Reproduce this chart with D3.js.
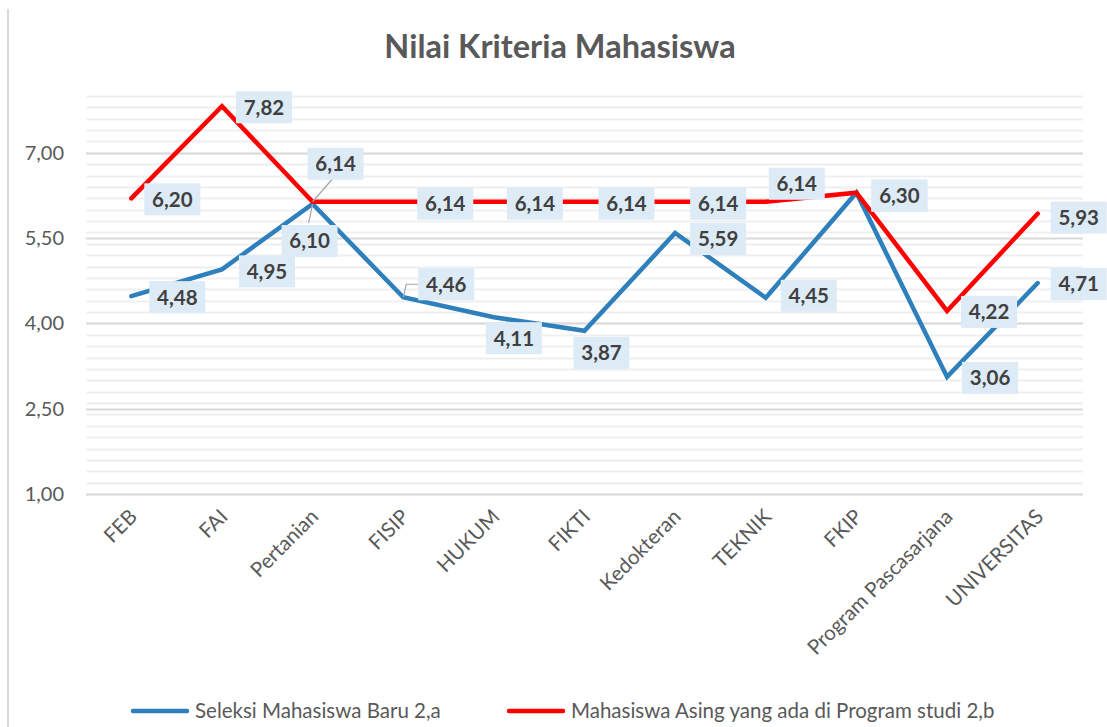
<!DOCTYPE html>
<html>
<head>
<meta charset="utf-8">
<script src="https://cdn.jsdelivr.net/npm/d3@7"></script>
<style>
  body { margin: 0; background: #fff; }
  svg text { font-family: Lato, "Open Sans", sans-serif; }
</style>
</head>
<body>
<svg id="chart" width="1107" height="727"></svg>
<script>
// data
var categories = ["FEB", "FAI", "Pertanian", "FISIP", "HUKUM", "FIKTI", "Kedokteran",
                  "TEKNIK", "FKIP", "Program Pascasarjana", "UNIVERSITAS"];
var seleksiBaru = [4.48, 4.95, 6.10, 4.46, 4.11, 3.87, 5.59, 4.45, 6.30, 3.06, 4.71];
var mhsAsing    = [6.20, 7.82, 6.14, 6.14, 6.14, 6.14, 6.14, 6.14, 6.30, 4.22, 5.93];
var seriesNames = ["Seleksi Mahasiswa Baru 2,a", "Mahasiswa Asing yang ada di Program studi 2,b"];
var yTicks = [1.0, 2.5, 4.0, 5.5, 7.0];
var chartTitle = "Nilai Kriteria Mahasiswa";

// label offsets (px from the point) for each series, by index
var blueOff = [[46,1],[45,2],[-3,37],[43,-13],[20,21],[17,22],[43,6],[43,-2],[43,3],[43,1],[41,1]];
var redOff  = [[41,1],[42,1],[23,-38],[42,2],[41,2],[42,2],[43,2],[31,-18],[43,3],[42,1],[41,4]];

var svg = d3.select("#chart");
var margin = {left: 86, right: 24, top: 96, bottom: 233};
var W = 1107, H = 727;

var x = d3.scaleBand().domain(categories).range([margin.left, W - margin.right]);
var y = d3.scaleLinear().domain([1, 8]).range([H - margin.bottom, margin.top]);
var cx = function(c) { return x(c) + x.bandwidth() / 2; };

var fmt = function(v) { return d3.format(".2f")(v).replace(".", ","); };

// chart border (left edge visible)
svg.append("line")
    .attr("x1", 8).attr("x2", 8).attr("y1", 9).attr("y2", H)
    .attr("stroke", "#d9d9d9").attr("stroke-width", 2);

// title
svg.append("text")
    .attr("x", 560).attr("y", 58)
    .attr("text-anchor", "middle")
    .attr("font-size", 32.5).attr("font-weight", "bold")
    .attr("fill", "#595959")
    .text(chartTitle);

// minor gridlines every 0.2
var minor = d3.range(1, 8.001, 0.2);
svg.append("g").selectAll("line")
    .data(minor)
    .enter()
    .append("line")
      .attr("x1", margin.left).attr("x2", W - margin.right)
      .attr("y1", function(d) { return Math.round(y(d)) + 0.5; })
      .attr("y2", function(d) { return Math.round(y(d)) + 0.5; })
      .attr("stroke", "#efefef").attr("stroke-width", 2);

// major gridlines
svg.append("g").selectAll("line")
    .data(yTicks)
    .enter()
    .append("line")
      .attr("x1", margin.left).attr("x2", W - margin.right)
      .attr("y1", function(d) { return Math.round(y(d)) + 0.5; })
      .attr("y2", function(d) { return Math.round(y(d)) + 0.5; })
      .attr("stroke", "#d9d9d9").attr("stroke-width", 2);

// y axis labels
var yAxis = d3.axisLeft(y).tickValues(yTicks).tickSize(0).tickPadding(22).tickFormat(fmt);
var gy = svg.append("g").attr("transform", "translate(" + margin.left + ",0)").call(yAxis);
gy.select(".domain").remove();
gy.selectAll("text")
    .attr("font-size", 20).attr("fill", "#595959")
    .attr("font-family", "Lato, 'Open Sans', sans-serif");

// x axis labels rotated
var xAxis = d3.axisBottom(x).tickSize(0).tickPadding(0);
var gx = svg.append("g").attr("transform", "translate(0," + (H - margin.bottom) + ")").call(xAxis);
gx.select(".domain").remove();
gx.selectAll("text")
    .attr("font-size", 20.5).attr("fill", "#595959")
    .attr("font-family", "Lato, 'Open Sans', sans-serif")
    .attr("text-anchor", "end")
    .attr("dy", null)
    .attr("transform", "translate(7,24) rotate(-45)");

// lines
var line = d3.line()
    .x(function(d, i) { return cx(categories[i]); })
    .y(function(d) { return y(d); });

var series = [
    {name: seriesNames[0], values: seleksiBaru, color: "#2e80bd", off: blueOff},
    {name: seriesNames[1], values: mhsAsing, color: "#ff0000", off: redOff}
];

svg.append("g").selectAll("path")
    .data(series)
    .enter()
    .append("path")
      .attr("d", function(d) { return line(d.values); })
      .attr("fill", "none")
      .attr("stroke", function(d) { return d.color; })
      .attr("stroke-width", 4.5)
      .attr("stroke-linejoin", "miter")
      .attr("stroke-linecap", "round");

// leader lines for the labels that sit away from their points
function leader(pts) {
    svg.append("polyline")
        .attr("points", pts.map(function(p) { return p.join(","); }).join(" "))
        .attr("fill", "none").attr("stroke", "#a6a6a6").attr("stroke-width", 1.2);
}
var pX = cx(categories[2]);
leader([[pX, y(mhsAsing[2])], [pX + 20, y(mhsAsing[2]) - 23]]);
leader([[pX, y(seleksiBaru[2])], [pX - 4, y(seleksiBaru[2]) + 19]]);
var fX = cx(categories[3]), fY = y(seleksiBaru[3]);
leader([[fX, fY], [fX + 3, fY - 13], [fX + 16, fY - 13]]);

// data labels
var labels = [];
series.forEach(function(s) {
    s.values.forEach(function(v, i) {
        labels.push({v: v, x: cx(categories[i]) + s.off[i][0], y: y(v) + s.off[i][1]});
    });
});

var lab = svg.append("g").selectAll("g")
    .data(labels)
    .enter()
    .append("g")
      .attr("transform", function(d) { return "translate(" + d.x + "," + d.y + ")"; });
lab.append("rect")
    .attr("x", -28).attr("y", -16)
    .attr("width", 56).attr("height", 32)
    .attr("fill", "#ddebf7");
lab.append("text")
    .attr("text-anchor", "middle")
    .attr("dy", "0.36em")
    .attr("font-size", 20.5).attr("font-weight", "bold")
    .attr("fill", "#404040")
    .text(function(d) { return fmt(d.v); });

// legend
var legendItems = [
    {name: seriesNames[0], color: "#2e80bd", x: 133},
    {name: seriesNames[1], color: "#ff0000", x: 509}
];
var lg = svg.append("g").selectAll("g")
    .data(legendItems)
    .enter()
    .append("g")
      .attr("transform", function(d) { return "translate(" + d.x + ",711)"; });
lg.append("line")
    .attr("x1", 0).attr("x2", 54)
    .attr("stroke", function(d) { return d.color; })
    .attr("stroke-width", 4.5).attr("stroke-linecap", "round");
lg.append("text")
    .attr("x", 62).attr("dy", "0.35em")
    .attr("font-size", 20.5).attr("fill", "#595959")
    .text(function(d) { return d.name; });
</script>
</body>
</html>
